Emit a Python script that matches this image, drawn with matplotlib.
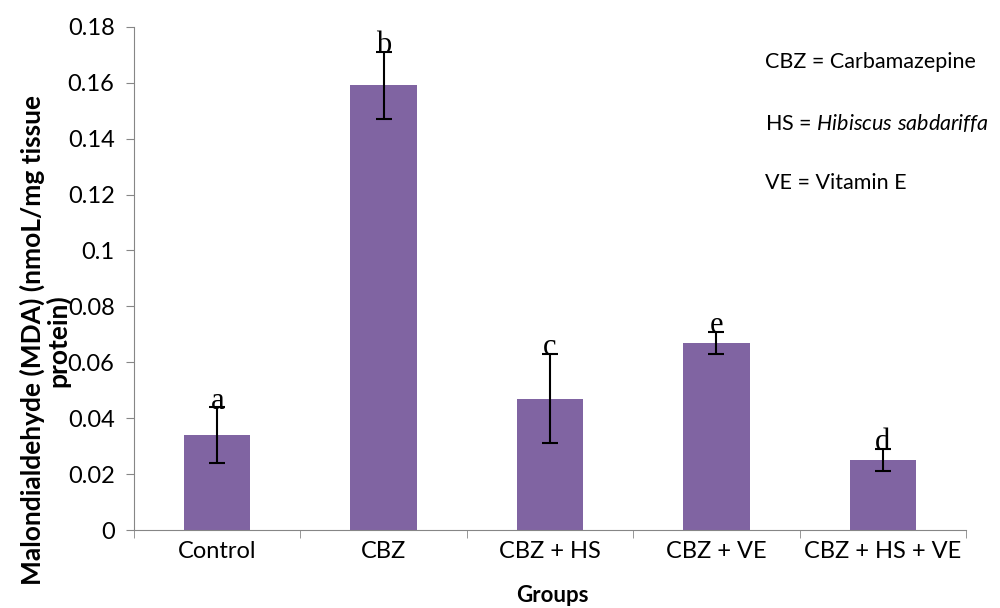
import numpy as np
import matplotlib.pyplot as plt

groups = ["Control", "CBZ", "CBZ + HS", "CBZ + VE", "CBZ + HS + VE"]
mda = [0.034, 0.159, 0.047, 0.067, 0.025]
mda_err = [0.010, 0.012, 0.016, 0.004, 0.004]
letters = ["a", "b", "c", "e", "d"]
y_ticks = [0, 0.02, 0.04, 0.06, 0.08, 0.1, 0.12, 0.14, 0.16, 0.18]
y_tick_labels = ["0", "0.02", "0.04", "0.06", "0.08", "0.1", "0.12", "0.14", "0.16", "0.18"]

plt.rcParams["font.family"] = ["Lato", "DejaVu Sans"]
plt.rcParams["mathtext.fontset"] = "custom"
plt.rcParams["mathtext.it"] = "Lato:italic"

fig = plt.figure(figsize=(10, 6.08), dpi=100)
ax = fig.add_axes([0.134, 0.128, 0.832, 0.828])

x = np.arange(len(groups))
ax.bar(x, mda, width=0.4, color="#8064A2", zorder=2)
ax.errorbar(x, mda, yerr=mda_err, fmt="none", ecolor="black",
            elinewidth=1.5, capsize=6, capthick=1.5, zorder=3)

# significance letters sit on top of each error bar
for xi, m, e, lab in zip(x, mda, mda_err, letters):
    ax.text(xi, m + e - 0.0005, lab, ha="center", va="baseline",
            fontsize=22, family="Liberation Serif", zorder=4)

ax.set_xlim(-0.5, len(groups) - 0.5)
ax.set_ylim(0, 0.18)
ax.set_yticks(y_ticks)
ax.set_yticklabels(y_tick_labels, fontsize=17)
ax.set_xticks(x)
ax.set_xticklabels(groups, fontsize=17)
ax.tick_params(axis="x", length=0, pad=8)
ax.set_xticks(np.arange(len(groups) + 1) - 0.5, minor=True)
ax.tick_params(axis="x", which="minor", length=6, color="#868686")
ax.tick_params(axis="y", length=6, color="#868686", pad=8)

for side in ["top", "right"]:
    ax.spines[side].set_visible(False)
for side in ["left", "bottom"]:
    ax.spines[side].set_color("#868686")

fig.text(0.552, 0.02, "Groups", fontsize=16, fontweight="bold",
         ha="center", va="center")
fig.text(0.045, 0.44, "Malondialdehyde (MDA) (nmoL/mg tissue\nprotein)",
         rotation=90, ha="center", va="center", fontsize=19,
         fontweight="bold", multialignment="center", linespacing=1.0)

fig.text(0.765, 0.898, "CBZ = Carbamazepine", fontsize=15.5, va="center")
fig.text(0.765, 0.798, "HS = $\\it{Hibiscus\\ sabdariffa}$", fontsize=15.5, va="center")
fig.text(0.765, 0.699, "VE = Vitamin E", fontsize=15.5, va="center")

fig.savefig("out.png", dpi=100)
